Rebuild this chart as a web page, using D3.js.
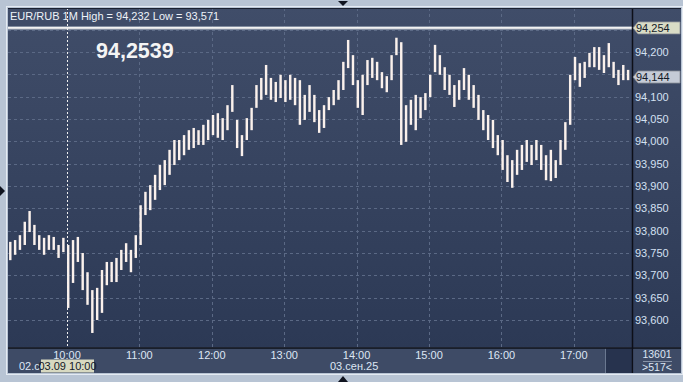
<!DOCTYPE html>
<html><head><meta charset="utf-8">
<script src="https://cdn.jsdelivr.net/npm/d3@7"></script>
<style>html,body{margin:0;padding:0;background:#b8c4d4;}svg{display:block;}</style>
</head><body>
<script>
// ---- data ----
const symbol = "EUR/RUB 1M";
const barStart = "2025-09-03T09:11";
const barMinutes = 4;
const highs = [
93.775,93.779,93.790,93.820,93.844,93.813,93.790,93.784,93.790,93.786,
93.768,93.784,93.768,93.779,93.786,93.750,93.707,93.667,93.672,93.712,
93.730,93.730,93.739,93.757,93.772,93.757,93.790,93.857,93.887,93.902,
93.925,93.947,93.958,93.981,94.003,94.003,94.014,94.025,94.030,94.025,
94.037,94.048,94.059,94.063,94.052,94.081,94.126,94.048,94.014,94.052,
94.075,94.126,94.142,94.171,94.142,94.133,94.149,94.137,94.149,94.142,
94.137,94.104,94.126,94.104,94.070,94.081,94.099,94.115,94.137,94.178,
94.227,94.193,94.137,94.149,94.182,94.187,94.178,94.155,94.146,94.193,
94.232,94.222,94.081,94.093,94.104,94.099,94.108,94.149,94.216,94.193,
94.166,94.149,94.126,94.137,94.164,94.149,94.126,94.104,94.070,94.059,
94.048,94.014,94.003,93.969,93.958,93.981,93.992,94.003,93.992,94.003,
93.992,93.969,93.981,93.958,94.003,94.043,94.149,94.189,94.175,94.178,
94.198,94.211,94.211,94.193,94.220,94.178,94.160,94.171,94.160];
const lows = [
93.734,93.746,93.757,93.768,93.797,93.768,93.757,93.746,93.757,93.757,
93.739,93.752,93.627,93.683,93.730,93.667,93.634,93.571,93.600,93.616,
93.678,93.685,93.685,93.712,93.730,93.707,93.739,93.768,93.835,93.846,
93.869,93.891,93.902,93.925,93.947,93.958,93.969,93.981,93.985,93.992,
93.992,94.003,94.014,94.008,94.003,94.025,94.066,93.985,93.967,94.003,
94.025,94.075,94.093,94.104,94.093,94.088,94.097,94.088,94.093,94.081,
94.037,94.048,94.066,94.043,94.019,94.030,94.070,94.081,94.093,94.115,
94.164,94.126,94.075,94.059,94.126,94.142,94.137,94.119,94.110,94.137,
94.193,93.992,93.999,94.037,94.025,94.052,94.070,94.099,94.155,94.149,
94.115,94.104,94.077,94.093,94.115,94.093,94.075,94.048,94.025,94.003,
93.985,93.969,93.936,93.909,93.896,93.925,93.936,93.954,93.947,93.958,
93.936,93.913,93.911,93.918,93.947,93.981,94.037,94.137,94.122,94.142,
94.166,94.166,94.160,94.153,94.166,94.142,94.126,94.137,94.137];
const yTickValues = [93.60,93.65,93.70,93.75,93.80,93.85,93.90,93.95,94.00,94.05,94.10,94.20];
const yGridValues = [93.60,93.65,93.70,93.75,93.80,93.85,93.90,93.95,94.00,94.05,94.10,94.15,94.20,94.25];
const hourTicks = ["10:00","11:00","12:00","13:00","14:00","15:00","16:00","17:00"];
const bigPrice = "94,2539";
const linePrice = 94.254;
const lastPrice = 94.144;
const cursorTime = "2025-09-03T10:00";
const cursorLabel = "03.09 10:00";
const dateLabels = ["02.сен.25","03.сен.25"];
const barCountTotal = "13601";
const barCountVisible = ">517<";

// ---- layout ----
const W = 683, H = 382;
const pL = 8, pR = 632, pT = 8, pB = 347.5, axB = 373, rR = 681;
const parse = d3.timeParse("%Y-%m-%dT%H:%M");
const dayParse = h => parse("2025-09-03T" + h);
const x = d3.scaleTime().domain([dayParse("09:00"), dayParse("18:00")]).range([-5.4, 646.2]);
const y = d3.scaleLinear().domain([93.5396, 94.2963]).range([347, 9]);
const fmt = v => d3.format(".3f")(v).replace(".", ",");

const svg = d3.select("body").append("svg").attr("width", W).attr("height", H)
  .style("font-family", "'Liberation Sans', Arial, sans-serif");
const defs = svg.append("defs");
const g1 = defs.append("linearGradient").attr("id","bg").attr("x1",0).attr("x2",0).attr("y1",0).attr("y2",1);
g1.append("stop").attr("offset","0%").attr("stop-color","#404d69");
g1.append("stop").attr("offset","100%").attr("stop-color","#2c3955");
defs.append("clipPath").attr("id","clip").append("rect").attr("x",pL).attr("y",pT).attr("width",pR-pL).attr("height",pB-pT);
defs.append("clipPath").attr("id","clipDate").append("rect").attr("x",pL).attr("y",pB).attr("width",41-pL).attr("height",axB-pB);

// outer
svg.append("rect").attr("width",W).attr("height",H).attr("fill","#b8c4d4");
svg.append("rect").attr("x",pL-1.5).attr("y",pT-1.5).attr("width",rR-pL+3).attr("height",axB-pT+3)
  .attr("fill","none").attr("stroke","#e4eaf2").attr("stroke-width",1);
// plot bg
svg.append("rect").attr("x",pL).attr("y",pT).attr("width",rR-pL).attr("height",pB-pT).attr("fill","url(#bg)");
// bottom axis panel
svg.append("rect").attr("x",pL).attr("y",pB).attr("width",rR-pL).attr("height",axB-pB).attr("fill","#3e4b66");
svg.append("rect").attr("x",606).attr("y",pB+1).attr("width",pR-606).attr("height",axB-pB-1).attr("fill","#27334e");
svg.append("line").attr("x1",605.5).attr("x2",605.5).attr("y1",pB+1).attr("y2",axB).attr("stroke","#6a7890");

// grid
const grid = svg.append("g").attr("stroke","#5b6985").attr("stroke-dasharray","3,3").attr("stroke-width",1);
grid.selectAll("line.h").data(yGridValues).join("line").attr("class","h")
  .attr("x1",pL).attr("x2",pR).attr("y1",d=>Math.round(y(d))+0.5).attr("y2",d=>Math.round(y(d))+0.5);
grid.selectAll("line.v").data(hourTicks.slice(1)).join("line").attr("class","v")
  .attr("x1",d=>Math.round(x(dayParse(d)))+0.5).attr("x2",d=>Math.round(x(dayParse(d)))+0.5)
  .attr("y1",pT).attr("y2",pB);

// price line at top
svg.append("line").attr("x1",pL).attr("x2",pR).attr("y1",y(linePrice)).attr("y2",y(linePrice))
  .attr("stroke","#9aa3b3").attr("stroke-width",3.5);
svg.append("line").attr("x1",pL).attr("x2",pR).attr("y1",y(linePrice)).attr("y2",y(linePrice))
  .attr("stroke","#f2f2f2").attr("stroke-width",1.6);

// bars
const t0 = parse(barStart);
const bars = highs.map((h,i)=>({t:d3.timeMinute.offset(t0, i*barMinutes), hi:h, lo:lows[i]}));
svg.append("g").attr("clip-path","url(#clip)").selectAll("rect").data(bars).join("rect")
  .attr("x", d => x(d.t) + 1.2)
  .attr("width", d => x(d3.timeMinute.offset(d.t, barMinutes)) - x(d.t) - 2.4)
  .attr("y", d => y(d.hi))
  .attr("height", d => Math.max(1, y(d.lo) - y(d.hi)))
  .attr("fill", "#fbf1ec");

// crosshair
const cx = Math.round(x(parse(cursorTime))) + 0.5;
svg.append("line").attr("x1",cx).attr("x2",cx).attr("y1",pT).attr("y2",pB)
  .attr("stroke","#f0f0f0").attr("stroke-dasharray","2,2");

// title
svg.append("text").attr("x",10).attr("y",20).attr("font-size",11).attr("fill","#eef2f8")
  .text(`${symbol} High = ${fmt(d3.max(highs))} Low = ${fmt(d3.min(lows))}`);
svg.append("text").attr("x",96).attr("y",58).attr("font-size",21.5).attr("font-weight","bold")
  .attr("fill","#f4f4f4").text(bigPrice);

// separators
svg.append("line").attr("x1",pR+0.5).attr("x2",pR+0.5).attr("y1",pT).attr("y2",axB).attr("stroke","#0d0f18").attr("stroke-width",1.5);
svg.append("line").attr("x1",pL).attr("x2",rR).attr("y1",pB+0.5).attr("y2",pB+0.5).attr("stroke","#0d0f18").attr("stroke-width",1.5);
svg.append("line").attr("x1",pL).attr("x2",rR).attr("y1",pT+0.5).attr("y2",pT+0.5).attr("stroke","#1a2030").attr("stroke-width",1);

// right axis labels
svg.append("g").selectAll("text").data(yTickValues).join("text")
  .attr("x",635).attr("y",d=>y(d)+4).attr("font-size",11).attr("fill","#d4e0f2").text(fmt);

// price boxes
function priceBox(v, fill){
  const cy = y(v);
  svg.append("path").attr("d",`M633,${cy} L638,${cy-6} L680,${cy-6} L680,${cy+6} L638,${cy+6} Z`)
    .attr("fill",fill).attr("stroke","#8a8f98").attr("stroke-width",0.8);
  svg.append("text").attr("x",636).attr("y",cy+4).attr("font-size",11).attr("fill","#141a28").text(fmt(v));
}
priceBox(linePrice, "#d9dcc6");
priceBox(lastPrice, "#c5cbd6");

// bottom axis labels
svg.append("g").selectAll("text").data(hourTicks).join("text")
  .attr("x",d=>x(dayParse(d))).attr("y",359).attr("text-anchor","middle")
  .attr("font-size",11).attr("fill","#dde6f4").text(d=>d);
svg.append("text").attr("x",19).attr("y",370).attr("font-size",11).attr("fill","#dde6f4")
  .attr("clip-path","url(#clipDate)").text(dateLabels[0]);
svg.append("text").attr("x",330).attr("y",370).attr("font-size",11).attr("fill","#dde6f4").text(dateLabels[1]);
svg.append("rect").attr("x",41).attr("y",359.5).attr("width",53).attr("height",13).attr("fill","#d8d9c1");
svg.append("text").attr("x",67.5).attr("y",370).attr("text-anchor","middle").attr("font-size",11)
  .attr("fill","#141a28").text(cursorLabel);

// bottom-right box
svg.append("rect").attr("x",pR+1.5).attr("y",pB+1.5).attr("width",rR-pR-1.5).attr("height",axB-pB-1.5).attr("fill","#3e4b66");
svg.append("text").attr("x",657).attr("y",358).attr("text-anchor","middle").attr("font-size",10.5).attr("fill","#dde6f4").text(barCountTotal);
svg.append("line").attr("x1",643).attr("x2",672).attr("y1",361.5).attr("y2",361.5).attr("stroke","#8894a8");
svg.append("text").attr("x",657).attr("y",371).attr("text-anchor","middle").attr("font-size",10.5).attr("fill","#dde6f4").text(barCountVisible);

// scroll markers
svg.append("path").attr("d","M338,1 L348,1 L343,6 Z").attr("fill","#101420");
svg.append("path").attr("d","M338,382 L348,382 L343,376 Z").attr("fill","#101420");
svg.append("path").attr("d","M0,186 L0,196 L5,191 Z").attr("fill","#101420");
</script>
</body></html>
